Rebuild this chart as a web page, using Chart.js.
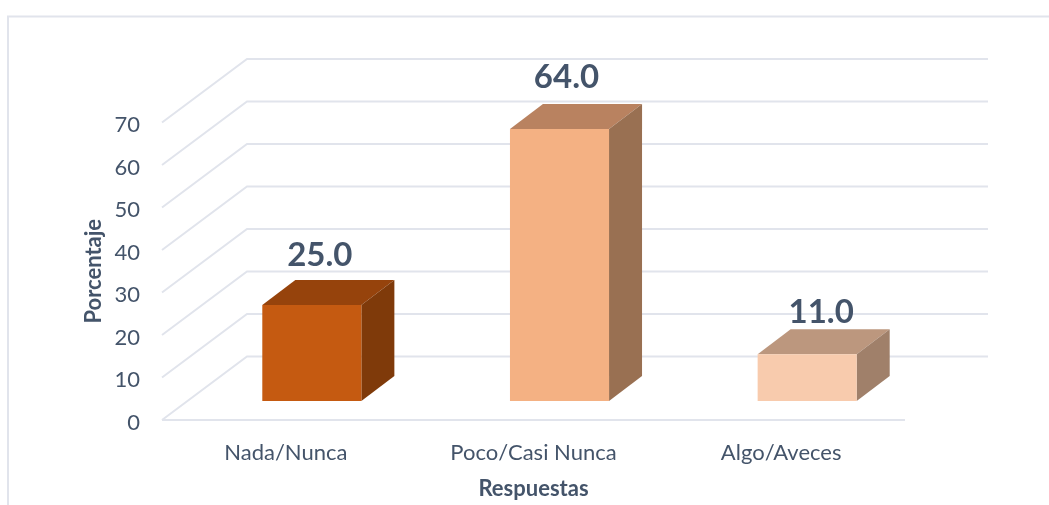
<!DOCTYPE html>
<html><head><meta charset="utf-8">
<style>html,body{margin:0;padding:0;background:#fff;overflow:hidden}canvas{display:block}</style>
<script src="https://cdn.jsdelivr.net/npm/chart.js@4"></script>
</head><body><canvas id="c" width="1049" height="505"></canvas>
<script>
const categories = ['Nada/Nunca', 'Poco/Casi Nunca', 'Algo/Aveces'];
// Height each bar is drawn at in the picture (the first bar stands lower than its printed label).
const barHeights = [22.6, 64, 11];
const valueLabels = ['25.0', '64.0', '11.0'];
const yTicks = [0, 10, 20, 30, 40, 50, 60, 70];
const frontColors = ['#C55A11', '#F4B183', '#F8CBAD'];
const topColors = ['#96430C', '#B98260', '#BC977E'];
const sideColors = ['#7F3A0A', '#997052', '#A0806A'];
const labelShift = [[8, -50], [7, -52], [14, -42]];

const INK = '#44546A', GRID = '#E1E4EC';
const wallDX = 85, wallDY = 63.5, barShiftX = 26, barShiftY = 19, barDX = 33, barDY = 25;

function poly(ctx, pts, fill) {
  ctx.beginPath();
  pts.forEach((p, i) => i ? ctx.lineTo(p[0], p[1]) : ctx.moveTo(p[0], p[1]));
  ctx.closePath();
  ctx.fillStyle = fill;
  ctx.fill();
}

const scene = {
  id: 'scene',
  beforeDatasetsDraw(chart) {
    const { ctx, scales: { x, y }, chartArea: a } = chart;
    ctx.save();
    ctx.strokeStyle = GRID;
    ctx.lineWidth = 2;
    ctx.beginPath();
    ctx.moveTo(8, 505); ctx.lineTo(8, 16.5); ctx.lineTo(1049, 16.5);
    ctx.stroke();
    yTicks.forEach(v => {
      const py = y.getPixelForValue(v);
      ctx.beginPath();
      ctx.moveTo(a.left, py);
      ctx.lineTo(a.left + wallDX, py - wallDY);
      ctx.lineTo(988, py - wallDY);
      ctx.stroke();
    });
    ctx.beginPath();
    ctx.moveTo(a.left, a.bottom); ctx.lineTo(a.right, a.bottom);
    ctx.stroke();
    ctx.restore();
  },
  beforeDatasetDraw(chart, args) {
    const { ctx } = chart;
    args.meta.data.forEach((bar, i) => {
      const w = bar.width;
      const l = bar.x - w / 2 + barShiftX, r = l + w;
      const t = bar.y - barShiftY, b = bar.base - barShiftY;
      poly(ctx, [[l, t], [l + barDX, t - barDY], [r + barDX, t - barDY], [r, t]], topColors[i]);
      poly(ctx, [[r, t], [r + barDX, t - barDY], [r + barDX, b - barDY], [r, b]], sideColors[i]);
      poly(ctx, [[l, t], [r, t], [r, b], [l, b]], frontColors[i]);
      ctx.save();
      ctx.font = 'bold 33px Lato';
      ctx.fillStyle = INK;
      ctx.textAlign = 'center';
      ctx.textBaseline = 'middle';
      ctx.fillText(valueLabels[i], (l + r) / 2 + labelShift[i][0], t + labelShift[i][1]);
      ctx.restore();
    });
    return false;
  }
};

new Chart(document.getElementById('c'), {
  type: 'bar',
  data: {
    labels: categories,
    datasets: [{ label: 'Porcentaje', data: barHeights, backgroundColor: frontColors,
      categoryPercentage: 0.4, barPercentage: 1 }]
  },
  plugins: [scene],
  options: {
    responsive: false,
    animation: false,
    devicePixelRatio: 1,
    layout: { padding: { left: 0, right: 144, top: 122.5, bottom: 0 } },
    plugins: { legend: { display: false }, tooltip: { enabled: false } },
    scales: {
      x: {
        grid: { display: false }, border: { display: false },
        afterFit(s) { s.height = 85; },
        ticks: { color: INK, padding: 12, font: { family: 'Lato', size: 22 }, maxRotation: 0 },
        title: { display: true, text: 'Respuestas', color: INK, padding: { top: 0, bottom: 3 },
          font: { family: 'Lato', size: 22, weight: 'bold' } }
      },
      y: {
        min: 0, max: 70,
        afterBuildTicks(s) { s.ticks = yTicks.map(value => ({ value })); },
        afterFit(s) { s.width = 162; },
        grid: { display: false }, border: { display: false },
        ticks: { color: INK, padding: 14, font: { family: 'Lato', size: 22, lineHeight: '5px' },
          callback: v => ['', String(v)] },
        title: { display: true, text: 'Porcentaje', color: INK, padding: { top: 81, bottom: 0 },
          font: { family: 'Lato', size: 22, weight: 'bold' } }
      }
    }
  }
});
</script></body></html>
